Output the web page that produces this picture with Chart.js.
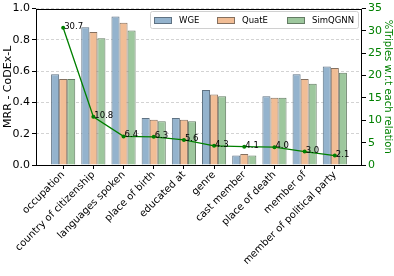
<!DOCTYPE html>
<html>
<head>
<meta charset="utf-8">
<script src="https://cdn.jsdelivr.net/npm/chart.js@4.4.0/dist/chart.umd.min.js"></script>
<style>
  body { margin: 0; background: #fff; }
</style>
</head>
<body>
<canvas id="myChart" width="394" height="276"></canvas>
<script>
'use strict';

// relations on the x axis
let relations = ['occupation', 'country of citizenship', 'languages spoken', 'place of birth',
  'educated at', 'genre', 'cast member', 'place of death', 'member of', 'member of political party'];

// MRR per model
let wgeMrr = [0.58, 0.88, 0.95, 0.30, 0.30, 0.48, 0.06, 0.44, 0.58, 0.63];
let quateMrr = [0.55, 0.85, 0.91, 0.29, 0.29, 0.45, 0.07, 0.43, 0.55, 0.62];
let simqgnnMrr = [0.55, 0.81, 0.86, 0.28, 0.28, 0.44, 0.06, 0.43, 0.52, 0.59];

// % of triples for each relation (right axis)
let triplePct = [30.7, 10.8, 6.4, 6.3, 5.6, 4.3, 4.1, 4.0, 3.0, 2.1];

let leftTicks = [0, 0.2, 0.4, 0.6, 0.8, 1.0];
let rightTicks = [0, 5, 10, 15, 20, 25, 30, 35];

Chart.defaults.font.family = 'DejaVu Sans';
Chart.defaults.color = '#000';

function toPoints(arr) {
  return arr.map(function (v, i) { return { x: i, y: v }; });
}

// frame, point labels and the boxed legend
let extras = {
  id: 'extras',
  afterDraw: function (chart) {
    let ctx = chart.ctx;
    let a = chart.chartArea;
    ctx.save();
    ctx.strokeStyle = '#000';
    ctx.lineWidth = 1;
    ctx.strokeRect(Math.round(a.left) + 0.5, Math.round(a.top) + 0.5,
      Math.round(a.right - a.left) - 1, Math.round(a.bottom - a.top));

    // numbers next to the green points
    let meta = chart.getDatasetMeta(3);
    ctx.font = '8.5px DejaVu Sans';
    ctx.fillStyle = '#000';
    ctx.textAlign = 'left';
    ctx.textBaseline = 'alphabetic';
    meta.data.forEach(function (pt, i) {
      ctx.fillText(triplePct[i].toFixed(1), pt.x + 1, pt.y + 1);
    });

    // legend
    let bx = 150, by = 11, bw = 208, bh = 17;
    ctx.fillStyle = 'rgba(255,255,255,0.85)';
    ctx.strokeStyle = '#d0d0d0';
    ctx.beginPath();
    ctx.roundRect(bx + 0.5, by + 0.5, bw, bh, 2);
    ctx.fill();
    ctx.stroke();
    let xs = [154, 217, 287];
    ctx.font = '8.5px DejaVu Sans';
    ctx.textBaseline = 'middle';
    for (let i = 0; i < 3; i++) {
      let ds = chart.data.datasets[i];
      ctx.fillStyle = ds.backgroundColor;
      ctx.fillRect(xs[i], by + 6, 17, 6);
      ctx.strokeStyle = ds.borderColor;
      ctx.strokeRect(xs[i] + 0.5, by + 6.5, 17, 6);
      ctx.fillStyle = '#000';
      ctx.fillText(ds.label, xs[i] + 25, by + 9.5);
    }
    ctx.restore();
  }
};

let ctx = document.getElementById('myChart').getContext('2d');

let chart = new Chart(ctx, {
  type: 'bar',
  data: {
    datasets: [
      {
        label: 'WGE',
        data: toPoints(wgeMrr),
        backgroundColor: '#94b3cd',
        borderColor: '#5f7283',
        borderWidth: 1,
        yAxisID: 'y',
        order: 1
      },
      {
        label: 'QuatE',
        data: toPoints(quateMrr),
        backgroundColor: '#f1bd95',
        borderColor: '#85705f',
        borderWidth: 1,
        yAxisID: 'y',
        order: 1
      },
      {
        label: 'SimQGNN',
        data: toPoints(simqgnnMrr),
        backgroundColor: '#9dc79d',
        borderColor: '#647c64',
        borderWidth: 1,
        yAxisID: 'y',
        order: 1
      },
      {
        type: 'line',
        label: '%Triples',
        data: toPoints(triplePct),
        borderColor: '#008000',
        backgroundColor: '#008000',
        borderWidth: 1.3,
        pointRadius: 2,
        pointBorderWidth: 0,
        yAxisID: 'y2',
        order: 0
      }
    ]
  },
  options: {
    responsive: false,
    animation: false,
    layout: { padding: { top: 7, left: 0, right: 0, bottom: 0 } },
    datasets: {
      bar: { categoryPercentage: 0.8, barPercentage: 1.0 }
    },
    plugins: {
      legend: { display: false },
      tooltip: { enabled: false }
    },
    scales: {
      x: {
        type: 'linear',
        offset: false,
        min: -0.9,
        max: 9.9,
        afterBuildTicks: function (s) {
          s.ticks = relations.map(function (_, i) { return { value: i }; });
        },
        afterFit: function (s) { s.height = 111; },
        ticks: {
          autoSkip: false,
          minRotation: 45,
          maxRotation: 45,
          padding: 0,
          font: { size: 10 },
          color: '#000',
          callback: function (v) { return relations[v]; }
        },
        grid: { drawOnChartArea: false, offset: false, tickLength: 4, color: '#000' },
        border: { display: false }
      },
      y: {
        position: 'left',
        min: 0,
        max: 1,
        afterBuildTicks: function (s) {
          s.ticks = leftTicks.map(function (v) { return { value: v }; });
        },
        afterFit: function (s) { s.width = 36; },
        ticks: {
          font: { size: 11 },
          color: '#000',
          padding: 2,
          callback: function (v) { return v.toFixed(1); }
        },
        grid: {
          color: '#d3d3d3',
          tickBorderDash: [],
          tickColor: '#000',
          tickLength: 4
        },
        border: { display: false, dash: [3, 2] },
        title: {
          display: true,
          text: 'MRR - CoDEx-L',
          font: { size: 11 },
          color: '#000',
          padding: { top: 2, bottom: 0 }
        }
      },
      y2: {
        position: 'right',
        min: 0,
        max: 35,
        afterBuildTicks: function (s) {
          s.ticks = rightTicks.map(function (v) { return { value: v }; });
        },
        afterFit: function (s) { s.width = 32; },
        ticks: {
          font: { size: 11 },
          color: '#008000',
          padding: 2
        },
        grid: { drawOnChartArea: false, tickColor: '#000', tickLength: 4 },
        border: { display: false },
        title: {
          display: true,
          text: '%Triples w.r.t each relation',
          font: { size: 10 },
          color: '#008000',
          padding: 0
        }
      }
    }
  },
  plugins: [extras]
});
</script>
</body>
</html>
